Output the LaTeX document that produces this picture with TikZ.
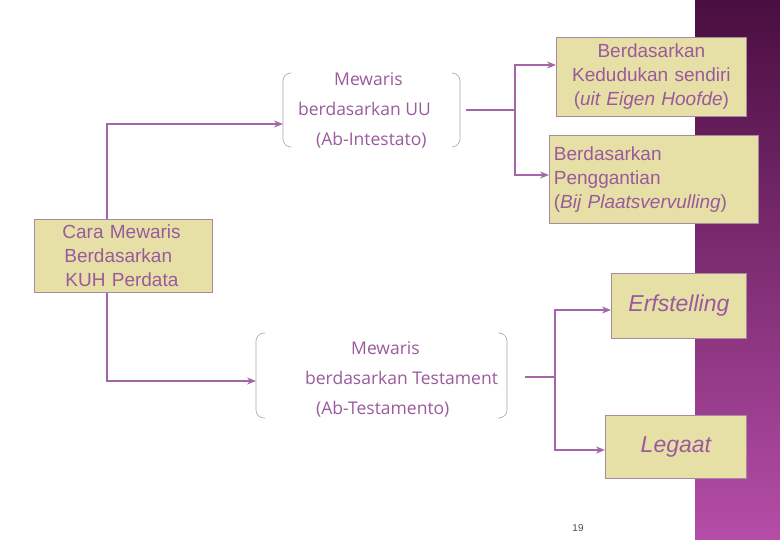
\documentclass[tikz,border=0pt]{standalone}
\usepackage{fontspec}
\setmainfont{Liberation Sans}
\newfontfamily\brfont{Open Sans}
\usetikzlibrary{arrows.meta}
\definecolor{txt}{HTML}{9A5A9C}
\definecolor{boxf}{HTML}{E6DFA6}
\definecolor{boxd}{HTML}{A68AA0}
\definecolor{ln}{HTML}{A466A8}
\definecolor{bandtop}{HTML}{4A0E40}
\definecolor{bandbot}{HTML}{B54DA8}
\begin{document}
\begin{tikzpicture}[x=1pt,y=-1pt,
 box/.style={draw=boxd,fill=boxf,line width=0.8pt,text=txt,font=\fontsize{19}{24}\selectfont,inner sep=3pt},
 con/.style={draw=ln,line width=1.4pt},
 arr/.style={con,-{Stealth[length=9pt,width=7pt]}},
 br/.style={draw=gray!70,line width=0.6pt,rounded corners=8pt},
 brt/.style={text=txt,font=\brfont\fontsize{17.5}{30}\selectfont,align=left,anchor=north west,inner sep=0pt}]
\useasboundingbox (0,0) rectangle (780,540);
\fill[top color=bandtop,bottom color=bandbot] (695,0) rectangle (780,540);
\node[box,minimum width=178,minimum height=73,anchor=north west,text width=170,align=left] (cara) at (34,219) {\hspace*{24pt}Cara Mewaris\\\hspace*{26pt}Berdasarkan\\\hspace*{27pt}KUH Perdata};
\node[box,minimum width=190,minimum height=79,anchor=north west,text width=184,align=center] (ked) at (556,37) {Berdasarkan\\Kedudukan sendiri\\(\textit{uit Eigen Hoofde})};
\node[box,minimum width=209,minimum height=88,anchor=north west,text width=200,align=left] (peng) at (549,135) {Berdasarkan\\Penggantian\\(\textit{Bij Plaatsvervulling})};
\node[box,minimum width=135,minimum height=65,anchor=north west,font=\fontsize{23}{26}\selectfont\itshape] (erf) at (611,273) {Erfstelling};
\node[box,minimum width=141,minimum height=63,anchor=north west,font=\fontsize{23}{26}\selectfont\itshape] (leg) at (605,415) {Legaat};
% brackets UU
\draw[br] (290,73) -- (283,73) -- (283,147) -- (290,147);
\draw[br] (452,73) -- (460,73) -- (460,147) -- (452,147);
\coordinate (uul) at (283,124);
\coordinate (uur) at (466,110);
\node[brt] (uu) at (298,72) {\hspace*{36pt}Mewaris\\berdasarkan UU\\\hspace*{18pt}(Ab-Intestato)};
% brackets Testament
\draw[br] (265,333) -- (256,333) -- (256,418) -- (265,418);
\draw[br] (498,333) -- (507,333) -- (507,418) -- (498,418);
\coordinate (tl) at (256,381);
\coordinate (tr) at (525,377);
\node[brt] (test) at (305,341) {\hspace*{46pt}Mewaris\\berdasarkan Testament\\\hspace*{11pt}(Ab-Testamento)};
% connectors
\draw[arr] (cara.north -| 107,0) -- (107,124) -- (uul);
\draw[arr] (cara.south -| 107,0) -- (107,381) -- (tl);
\draw[con] (uur) -- (515,110);
\draw[arr] (515,110) -- (515,65) -- (ked.west |- 0,65);
\draw[arr] (515,110) -- (515,175) -- (peng.west |- 0,175);
\draw[con] (tr) -- (555,377);
\draw[arr] (555,377) -- (555,310) -- (erf.west |- 0,310);
\draw[arr] (555,377) -- (555,450) -- (leg.west |- 0,450);
\node[font=\fontsize{10}{12}\selectfont,text=black!70] (pg) at (578,528) {19};
\end{tikzpicture}
\end{document}
